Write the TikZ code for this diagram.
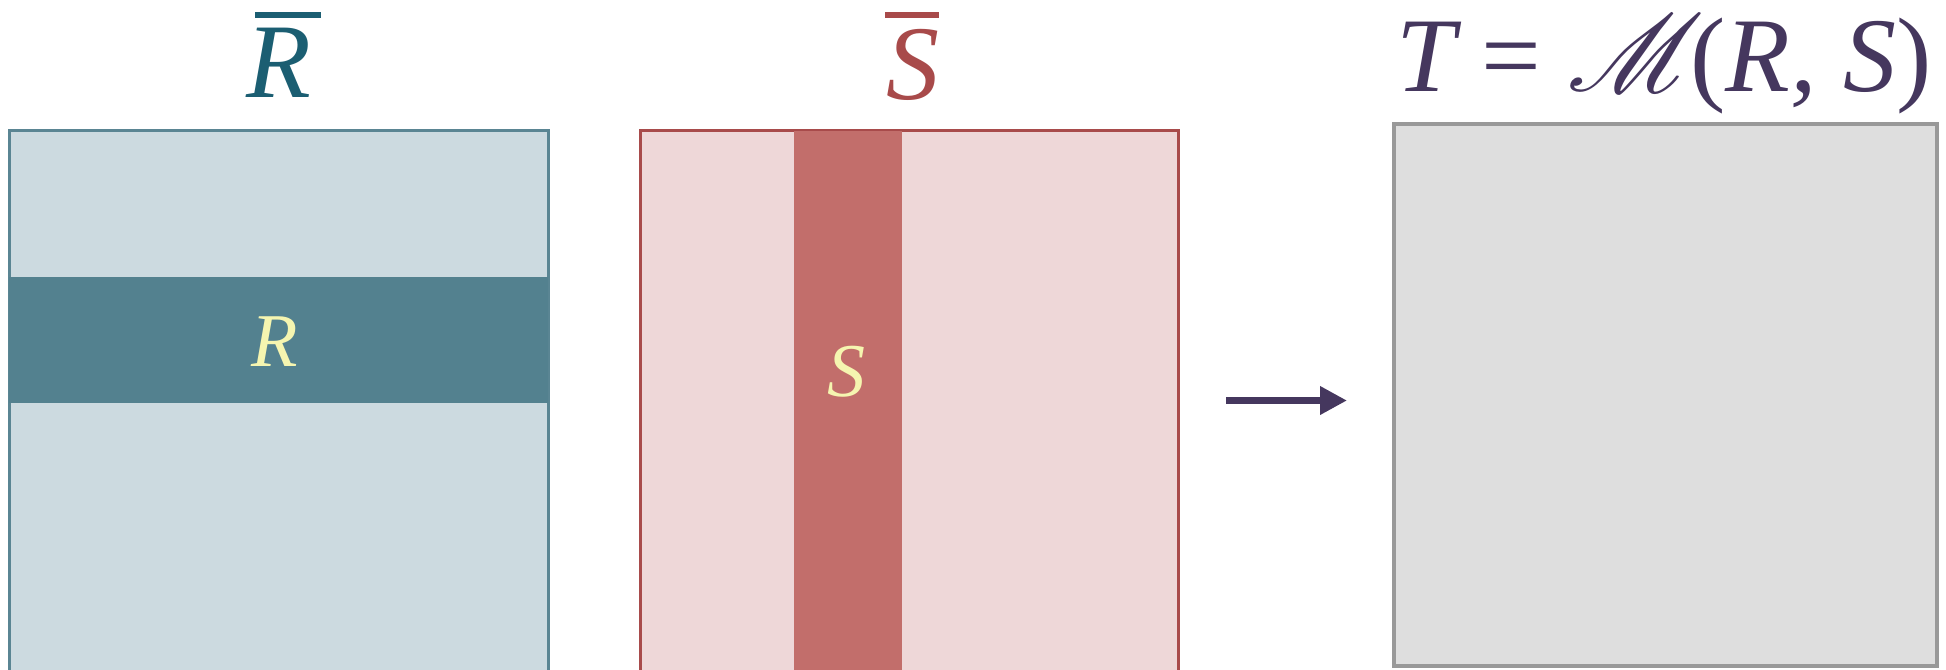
\documentclass[tikz,border=0pt]{standalone}
\usepackage{fontspec}
\setmainfont{Liberation Serif}
\usetikzlibrary{arrows.meta}
\DeclareFontFamily{U}{myrsfs}{\skewchar\font127 }
\DeclareFontShape{U}{myrsfs}{m}{n}{<-> rsfs10}{}
\newcommand{\myscrM}{{\fontsize{55}{62}\usefont{U}{myrsfs}{m}{n}M}}
\definecolor{rlight}{HTML}{CCDAE0}
\definecolor{rband}{HTML}{53818F}
\definecolor{rborder}{HTML}{5A8593}
\definecolor{rdark}{HTML}{1B5E72}
\definecolor{slight}{HTML}{EED7D8}
\definecolor{sstripe}{HTML}{C26E6B}
\definecolor{sborder}{HTML}{A84B4B}
\definecolor{sdark}{HTML}{A84A4A}
\definecolor{tlight}{HTML}{DEDEDE}
\definecolor{tborder}{HTML}{999999}
\definecolor{tdark}{HTML}{45375E}
\definecolor{lbl}{HTML}{F5F5B0}
\tikzset{
  title/.style={inner sep=0pt, font=\fontsize{53}{60}\selectfont\itshape},
  innerlbl/.style={inner sep=0pt, text=lbl, font=\fontsize{38}{44}\selectfont\itshape},
  bar/.style={line width=3pt},
  rbox/.style={fill=rlight, draw=rborder, line width=1.5pt},
  sbox/.style={fill=slight, draw=sborder, line width=1.5pt},
  tbox/.style={fill=tlight, draw=tborder, line width=1.8pt},
  arr/.style={draw=tdark, line width=3.5pt, -{Triangle[length=13.5pt,width=13.5pt]}}
}
\begin{document}
\begin{tikzpicture}[x=0.5pt,y=-0.5pt]
\useasboundingbox (0,0) rectangle (1946,669);
% R matrix
\draw[rbox] (9,130) rectangle (548,700);
\fill[rband] (9,277) rectangle (548,403);
\node[innerlbl, anchor=base] (rlbl) at (275,366) {R};
\node[title, text=rdark, anchor=base] (rtitle) at (279,97) {R};
\draw[bar, rdark] (255,15) -- (321,15);
% S matrix
\draw[sbox] (640,130) rectangle (1178,700);
\fill[sstripe] (794,131) rectangle (902,700);
\node[innerlbl, anchor=base] (slbl) at (846,396) {S};
\node[title, text=sdark, anchor=base] (stitle) at (913,99) {S};
\draw[bar, sdark] (885,15) -- (939,15);
% arrow
\coordinate (a1) at (1226,400.5);
\coordinate (a2) at (1347,400.5);
\draw[arr] (a1) -- (a2);
% T matrix
\draw[tbox] (1394,124) rectangle (1937,666);
\node[title, text=tdark, anchor=base] (ttitle) at (1664,91) {T {\upshape=} \myscrM\kern2pt{\upshape(}R, S{\upshape)}};
\end{tikzpicture}
\end{document}
